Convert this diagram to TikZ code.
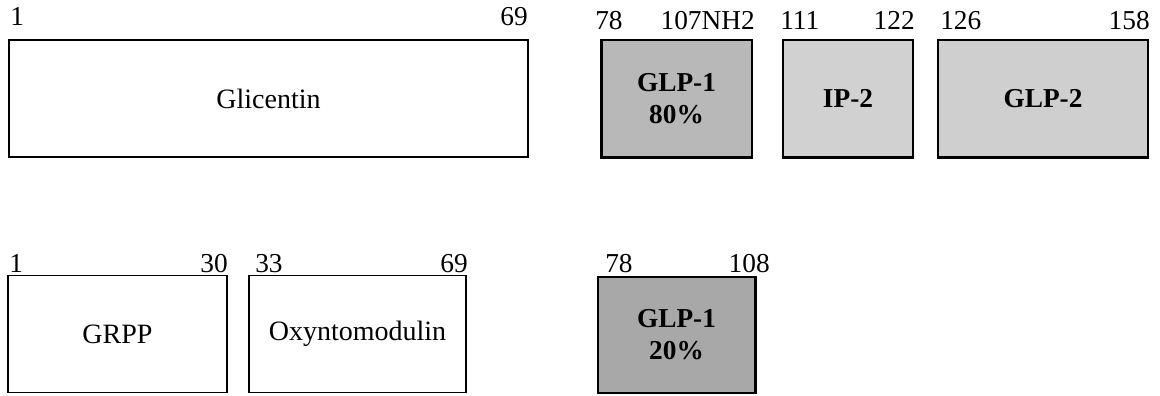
\documentclass[tikz,border=0pt]{standalone}
\usepackage{fontspec}
\setmainfont{Liberation Serif}
\usepackage{tikz}
\usetikzlibrary{positioning}

\begin{document}
\begin{tikzpicture}[x=0.75pt,y=-0.75pt,
    seg/.style={draw,line width=1.1pt,minimum height=88pt,inner sep=0pt,font=\fontsize{21}{24}\selectfont},
    pep/.style={seg,line width=2pt,align=center,font=\fontsize{20.5}{24}\selectfont\bfseries},
    num/.style={inner sep=0pt,font=\fontsize{20.5}{24}\selectfont}]
  \useasboundingbox (0,0) rectangle (1160,396);
  % upper row
  \node[seg,minimum width=389pt] (glic) at (268.5,98.5) {Glicentin};
  \node[pep,fill=black!28,minimum width=113pt] (glpa) at (676.5,98.5) {GLP-1\\80\%};
  \node[pep,fill=black!18,minimum width=97.5pt] (ip) at (848,98.5) {IP-2};
  \node[pep,fill=black!19,minimum width=157.5pt] (glpb) at (1043,98.5) {GLP-2};
  % lower row
  \node[seg,minimum width=164pt] (grpp) at (117.5,334) {GRPP};
  \node[seg,minimum width=163pt] (oxm) at (357.5,334) {Oxyntomodulin};
  \node[pep,fill=black!34,minimum width=118pt,minimum height=87pt] (glpc) at (676.5,335) {GLP-1\\20\%};
  % residue numbers
  \node[num,anchor=base west] (glic-s) at (10,25) {1};
  \node[num,anchor=base east] (glic-e) at (528,25) {69};
  \node[num,anchor=base west] (glpa-s) at (595,29) {78};
  \node[num,anchor=base east] (glpa-e) at (755,29) {107NH2};
  \node[num,anchor=base west] (ip-s) at (780,29) {111};
  \node[num,anchor=base east] (ip-e) at (915,29) {122};
  \node[num,anchor=base west] (glpb-s) at (940,29) {126};
  \node[num,anchor=base east] (glpb-e) at (1150,29) {158};
  \node[num,anchor=base west] (grpp-s) at (9,272) {1};
  \node[num,anchor=base east] (grpp-e) at (228,272) {30};
  \node[num,anchor=base west] (oxm-s) at (255,272) {33};
  \node[num,anchor=base east] (oxm-e) at (468,272) {69};
  \node[num,anchor=base west] (glpc-s) at (605,272) {78};
  \node[num,anchor=base east] (glpc-e) at (770,272) {108};
\end{tikzpicture}
\end{document}
